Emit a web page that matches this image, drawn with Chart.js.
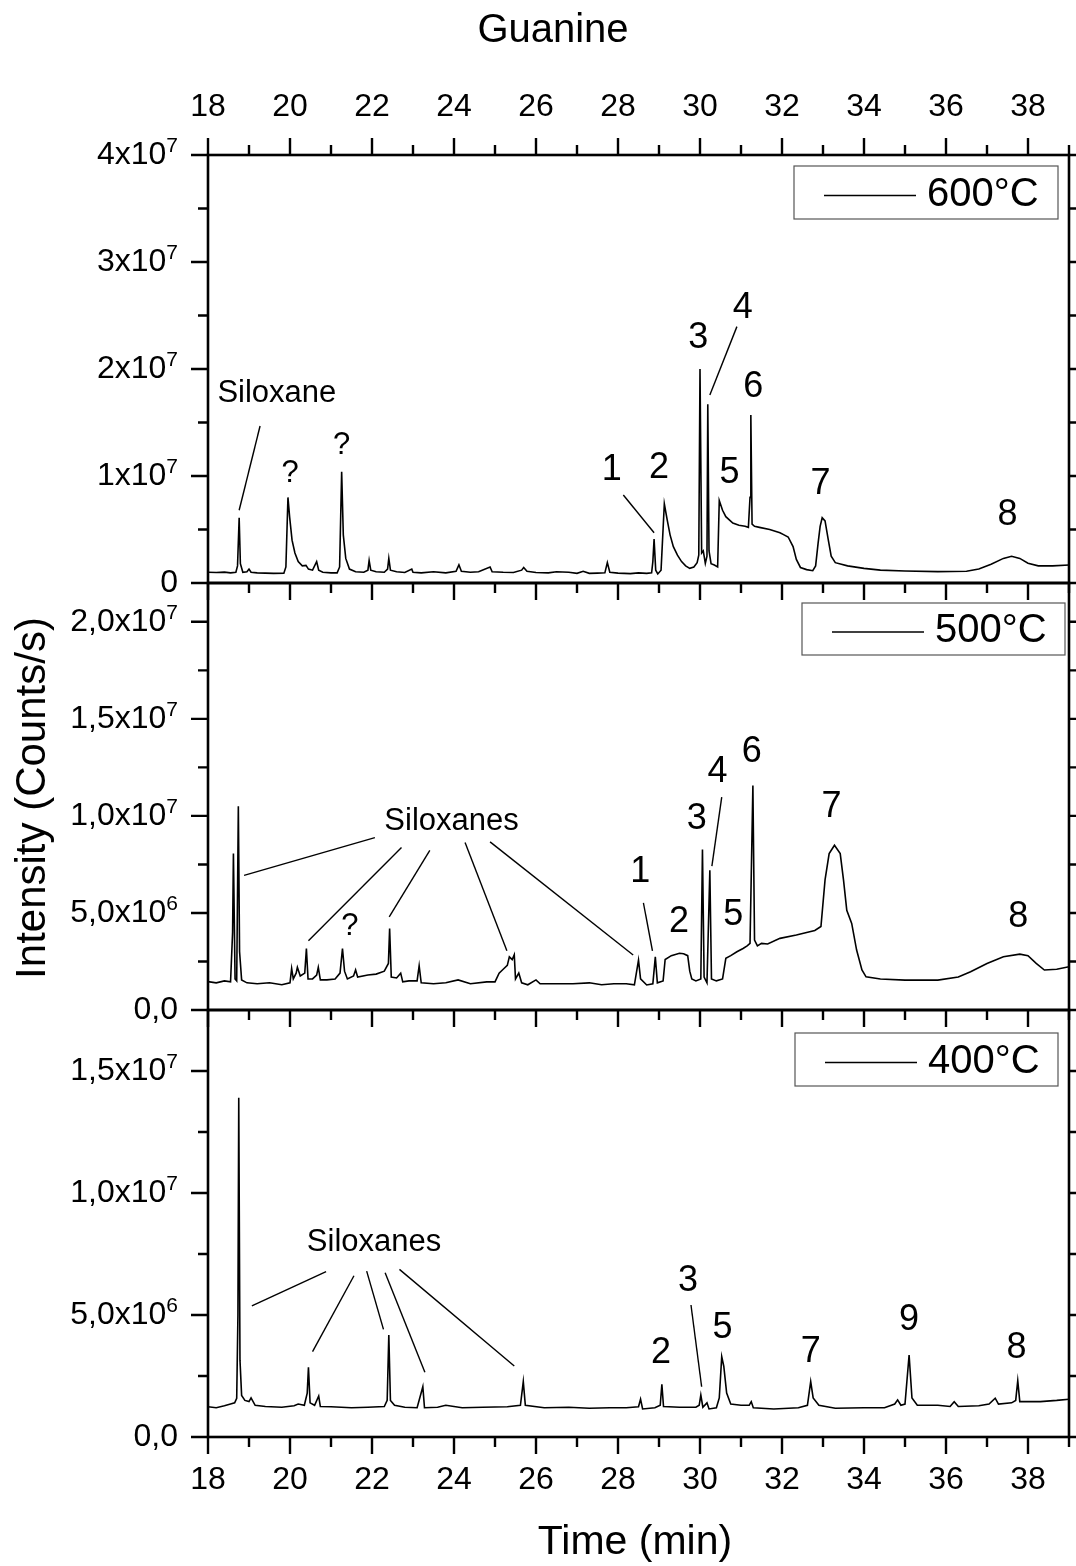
<!DOCTYPE html>
<html>
<head>
<meta charset="utf-8">
<script src="https://cdn.jsdelivr.net/npm/chart.js@4"></script>
<style>
body { margin: 0; background: #fff; }
#wrap { position: relative; width: 1076px; height: 1566px; overflow: hidden; background: #fff; }
canvas { position: absolute; left: 0; }
</style>
</head>
<body>
<div id="wrap">
  <canvas id="c600" width="1076" height="610" style="top:0px"></canvas>
  <canvas id="c500" width="1076" height="460" style="top:570px"></canvas>
  <canvas id="c400" width="1076" height="566" style="top:1000px"></canvas>
</div>
<script>
// retention time (min) and intensity (10^6 counts/s)
var t600 = [
  18.0, 18.2, 18.4, 18.55, 18.68, 18.72, 18.76, 18.79, 18.85, 18.95,
  19.0, 19.05, 19.2, 19.4, 19.6, 19.85, 19.9, 19.95, 19.99, 20.05,
  20.12, 20.2, 20.3, 20.39, 20.45, 20.55, 20.65, 20.7, 20.8, 21.0,
  21.15, 21.21, 21.26, 21.3, 21.36, 21.45, 21.6, 21.8, 21.9, 21.93,
  21.97, 22.1, 22.3, 22.38, 22.41, 22.45, 22.6, 22.8, 22.97, 23.0,
  23.2, 23.5, 23.8, 24.05, 24.12, 24.18, 24.4, 24.6, 24.88, 24.93,
  25.2, 25.45, 25.65, 25.7, 25.78, 26.0, 26.3, 26.5, 26.8, 27.0,
  27.15, 27.3, 27.5, 27.68, 27.74, 27.8, 28.0, 28.3, 28.5, 28.7,
  28.82, 28.85, 28.88, 28.92, 28.97, 29.05, 29.13, 29.2, 29.27, 29.35,
  29.45, 29.55, 29.65, 29.75, 29.85, 29.93, 29.97, 30.0, 30.04, 30.08,
  30.13, 30.17, 30.19, 30.22, 30.27, 30.35, 30.43, 30.47, 30.55, 30.63,
  30.8, 30.95, 31.1, 31.18, 31.22, 31.24, 31.27, 31.33, 31.45, 31.7,
  31.95, 32.05, 32.15, 32.27, 32.35, 32.45, 32.6, 32.75, 32.82, 32.88,
  32.93, 32.98, 33.05, 33.13, 33.2, 33.3, 33.6, 34.0, 34.4, 35.0,
  35.8, 36.5, 36.8, 37.1, 37.4, 37.6, 37.8, 38.0, 38.25, 38.6,
  39.0
];
var i600 = [
  1.0, 0.98, 1.02, 0.95, 1.0, 1.6, 6.1, 1.8, 1.0, 1.05,
  1.3, 1.0, 0.95, 0.92, 0.9, 0.92, 1.5, 8.0, 6.2, 4.0,
  2.8, 2.0, 1.6, 1.65, 1.3, 1.2, 2.0, 1.2, 1.0, 0.95,
  0.95, 1.5, 10.4, 4.5, 2.3, 1.3, 1.05, 1.0, 1.2, 2.1,
  1.2, 1.05, 1.0, 1.3, 2.3, 1.2, 1.05, 0.98, 1.3, 1.0,
  0.95, 1.05, 0.95, 1.1, 1.7, 1.1, 1.0, 1.05, 1.5, 1.05,
  1.0, 0.98, 1.2, 1.45, 1.1, 0.98, 0.95, 1.05, 1.0, 0.9,
  1.1, 0.9, 0.92, 0.95, 1.9, 1.0, 0.92, 0.88, 0.95, 0.9,
  0.95, 2.0, 4.1, 1.2, 0.85, 1.2, 7.4, 5.9, 4.5, 3.4,
  2.6, 2.0, 1.6, 1.37, 1.5, 1.9, 2.6, 20.0, 2.8, 3.0,
  1.84, 2.5, 16.7, 3.0, 1.8, 1.68, 1.5, 7.7, 6.8, 6.2,
  5.6, 5.4, 5.3, 5.2, 8.0, 15.7, 5.5, 5.3, 5.2, 5.0,
  4.7, 4.5, 4.3, 3.4, 2.2, 1.45, 1.25, 1.15, 1.6, 3.7,
  5.3, 6.1, 5.8, 4.0, 2.5, 1.9, 1.6, 1.37, 1.2, 1.12,
  1.06, 1.1, 1.3, 1.75, 2.3, 2.5, 2.3, 1.85, 1.6, 1.6,
  1.68
];

var t500 = [
  18.0, 18.2, 18.4, 18.55, 18.6, 18.62, 18.66, 18.7, 18.74, 18.77,
  18.82, 18.95, 19.2, 19.5, 19.8, 20.0, 20.04, 20.08, 20.15, 20.18,
  20.25, 20.36, 20.4, 20.44, 20.55, 20.65, 20.69, 20.74, 20.9, 21.1,
  21.22, 21.28, 21.33, 21.4, 21.55, 21.6, 21.65, 21.9, 22.1, 22.3,
  22.4, 22.43, 22.47, 22.6, 22.7, 22.75, 22.9, 23.1, 23.15, 23.2,
  23.5, 23.8, 24.1, 24.4, 24.8, 25.0, 25.1, 25.2, 25.3, 25.35,
  25.42, 25.47, 25.5, 25.58, 25.65, 25.8, 26.0, 26.1, 26.5, 26.9,
  27.3, 27.6, 27.9, 28.2, 28.4, 28.5, 28.55, 28.7, 28.85, 28.91,
  28.96, 29.1, 29.15, 29.3, 29.5, 29.6, 29.7, 29.75, 29.8, 29.9,
  30.02, 30.06, 30.1, 30.17, 30.24, 30.28, 30.4, 30.55, 30.63, 30.75,
  30.9, 31.05, 31.15, 31.22, 31.29, 31.33, 31.4, 31.5, 31.65, 31.95,
  32.35, 32.8, 32.95, 33.05, 33.15, 33.28, 33.42, 33.5, 33.58, 33.7,
  33.82, 33.95, 34.05, 34.4, 35.0, 35.8, 36.3, 36.6, 37.0, 37.4,
  37.8, 38.0, 38.2, 38.4, 38.7, 39.0
];
var i500 = [
  1.46, 1.4, 1.5, 1.45, 4.0, 8.06, 1.6, 1.5, 10.5, 3.0,
  1.55, 1.4, 1.35, 1.4, 1.3, 1.4, 2.14, 1.6, 1.9, 2.2,
  1.75, 1.9, 3.17, 1.6, 1.6, 1.8, 2.2, 1.55, 1.55, 1.6,
  1.9, 3.17, 2.0, 1.6, 1.75, 2.06, 1.7, 1.8, 1.85, 2.0,
  2.4, 4.2, 1.7, 1.65, 1.9, 1.45, 1.5, 1.5, 2.28, 1.4,
  1.35, 1.4, 1.55, 1.35, 1.45, 1.45, 1.9, 2.1, 2.3, 2.74,
  2.6, 2.85, 1.6, 1.9, 1.4, 1.3, 1.55, 1.35, 1.35, 1.35,
  1.4, 1.3, 1.35, 1.35, 1.3, 2.57, 1.6, 1.29, 1.35, 2.74,
  1.4, 1.5, 2.6, 2.8, 2.92, 2.9, 2.8, 2.0, 1.6, 1.5,
  1.6, 8.27, 1.7, 1.4, 7.2, 1.6, 1.5, 1.6, 2.66, 2.8,
  3.0, 3.17, 3.3, 3.43, 11.57, 3.6, 3.3, 3.43, 3.4, 3.69,
  3.86, 4.1, 4.3, 6.7, 8.06, 8.49, 8.06, 6.7, 5.14, 4.46,
  3.09, 2.06, 1.71, 1.6, 1.54, 1.54, 1.7, 1.97, 2.4, 2.74,
  2.88, 2.8, 2.4, 2.06, 2.1, 2.23
];

var t400 = [
  18.0, 18.2, 18.4, 18.55, 18.65, 18.7, 18.73, 18.75, 18.78, 18.82,
  18.9, 19.0, 19.05, 19.15, 19.4, 19.8, 20.1, 20.2, 20.35, 20.42,
  20.45, 20.49, 20.6, 20.7, 20.74, 21.0, 21.5, 21.9, 22.3, 22.37,
  22.41, 22.45, 22.55, 22.8, 23.1, 23.24, 23.28, 23.6, 23.8, 24.2,
  24.7, 25.3, 25.62, 25.69, 25.74, 26.2, 26.8, 27.3, 27.8, 28.2,
  28.5, 28.55, 28.6, 28.9, 29.03, 29.07, 29.11, 29.5, 29.9, 29.98,
  30.02, 30.07, 30.17, 30.22, 30.4, 30.47, 30.53, 30.58, 30.65, 30.75,
  31.0, 31.2, 31.25, 31.3, 31.8, 32.4, 32.62, 32.7, 32.76, 32.9,
  33.3, 34.0, 34.5, 34.75, 34.82, 34.9, 35.0, 35.1, 35.17, 35.3,
  35.8, 36.1, 36.2, 36.3, 36.8, 37.05, 37.2, 37.28, 37.6, 37.7,
  37.75, 37.8, 38.3, 38.7, 39.0
];
var i400 = [
  1.24, 1.2, 1.28, 1.35, 1.4, 1.59, 5.0, 13.9, 3.15, 1.7,
  1.5, 1.45, 1.6, 1.3, 1.25, 1.22, 1.28, 1.35, 1.3, 1.8,
  2.86, 1.4, 1.3, 1.68, 1.25, 1.24, 1.2, 1.22, 1.25, 1.5,
  4.18, 1.5, 1.3, 1.22, 1.2, 2.06, 1.2, 1.22, 1.3, 1.2,
  1.22, 1.24, 1.3, 2.27, 1.3, 1.2, 1.22, 1.18, 1.2, 1.2,
  1.24, 1.55, 1.15, 1.2, 1.3, 2.16, 1.25, 1.22, 1.22, 1.3,
  1.72, 1.22, 1.4, 1.15, 1.2, 1.6, 3.29, 2.9, 1.8, 1.35,
  1.3, 1.3, 1.45, 1.2, 1.15, 1.2, 1.3, 2.27, 1.6, 1.3,
  1.18, 1.2, 1.2, 1.35, 1.52, 1.3, 1.35, 3.36, 1.6, 1.3,
  1.3, 1.25, 1.45, 1.25, 1.28, 1.35, 1.59, 1.35, 1.4, 1.5,
  2.31, 1.45, 1.45, 1.5, 1.55
];

// axis ticks
var xMajor = [18, 20, 22, 24, 26, 28, 30, 32, 34, 36, 38];
var xMinor = [19, 21, 23, 25, 27, 29, 31, 33, 35, 37, 39];

var yTicks600 = [0, 10, 20, 30, 40];
var yLabels600 = ['0', '1x10^7', '2x10^7', '3x10^7', '4x10^7'];
var yMinor600 = [5, 15, 25, 35];

var yTicks500 = [0, 5, 10, 15, 20];
var yLabels500 = ['0,0', '5,0x10^6', '1,0x10^7', '1,5x10^7', '2,0x10^7'];
var yMinor500 = [2.5, 7.5, 12.5, 17.5];

var yTicks400 = [0, 5, 10, 15];
var yLabels400 = ['0,0', '5,0x10^6', '1,0x10^7', '1,5x10^7'];
var yMinor400 = [2.5, 7.5, 12.5];

// peak annotations: text, time, intensity, font size
var notes600 = [
  ['Siloxane', 19.68, 17.76, 31], ['?', 20.0, 10.25, 31], ['?', 21.26, 12.9, 31],
  ['1', 27.85, 10.56, 36], ['2', 29.0, 10.7, 36], ['3', 29.96, 22.87, 36],
  ['4', 31.04, 25.67, 36], ['5', 30.72, 10.25, 36], ['6', 31.3, 18.29, 36],
  ['7', 32.94, 9.25, 36], ['8', 37.5, 6.36, 36]
];
var leaders600 = [[19.27, 14.67, 18.76, 6.8], [28.13, 8.22, 28.88, 4.7], [30.9, 23.96, 30.24, 17.57]];

var notes500 = [
  ['Siloxanes', 23.94, 9.74, 31], ['?', 21.46, 4.29, 31],
  ['1', 28.54, 7.11, 36], ['2', 29.49, 4.54, 36], ['3', 29.92, 9.86, 36],
  ['4', 30.43, 12.26, 36], ['5', 30.81, 4.89, 36], ['6', 31.26, 13.29, 36],
  ['7', 33.21, 10.46, 36], ['8', 37.76, 4.8, 36]
];
var leaders500 = [
  [22.07, 8.88, 18.88, 6.94], [22.72, 8.37, 20.45, 3.57], [23.41, 8.23, 22.42, 4.8],
  [24.27, 8.63, 25.29, 3.05], [24.88, 8.66, 28.37, 2.83], [28.62, 5.52, 28.84, 3.05],
  [30.53, 10.97, 30.29, 7.41]
];

var notes400 = [
  ['Siloxanes', 22.05, 7.96, 31], ['2', 29.05, 3.43, 36], ['3', 29.71, 6.37, 36],
  ['5', 30.55, 4.45, 36], ['7', 32.7, 3.5, 36], ['9', 35.1, 4.8, 36], ['8', 37.72, 3.64, 36]
];
var leaders400 = [
  [20.88, 6.78, 19.07, 5.37], [21.56, 6.61, 20.55, 3.5], [21.87, 6.8, 22.28, 4.41],
  [22.32, 6.73, 23.29, 2.65], [22.67, 6.87, 25.47, 2.91], [29.78, 5.41, 30.04, 2.06]
];

var FONT = '"Liberation Sans", Arial, sans-serif';
Chart.defaults.font.family = FONT;

function yLabel(ctx, s, xr, y) {
  var p = s.split('^');
  ctx.fillStyle = '#000';
  if (p.length === 1) {
    ctx.font = '32px ' + FONT;
    ctx.textAlign = 'right';
    ctx.textBaseline = 'middle';
    ctx.fillText(s, xr, y);
    return;
  }
  ctx.font = '21px ' + FONT;
  var ew = ctx.measureText(p[1]).width;
  ctx.textAlign = 'right';
  ctx.textBaseline = 'alphabetic';
  ctx.fillText(p[1], xr, y - 3);
  ctx.font = '32px ' + FONT;
  ctx.textBaseline = 'middle';
  ctx.fillText(p[0], xr - ew, y);
}

var panelPlugin = {
  id: 'panel',
  afterDraw: function (chart, args, o) {
    var ctx = chart.ctx, a = chart.chartArea;
    var xs = chart.scales.x, ys = chart.scales.y;
    ctx.save();
    ctx.strokeStyle = '#000';
    ctx.fillStyle = '#000';

    // leader lines + peak labels
    ctx.lineWidth = 1.4;
    o.leaders.forEach(function (l) {
      ctx.beginPath();
      ctx.moveTo(xs.getPixelForValue(l[0]), ys.getPixelForValue(l[1]));
      ctx.lineTo(xs.getPixelForValue(l[2]), ys.getPixelForValue(l[3]));
      ctx.stroke();
    });
    ctx.textAlign = 'center';
    ctx.textBaseline = 'middle';
    o.notes.forEach(function (n) {
      ctx.font = n[3] + 'px ' + FONT;
      ctx.fillText(n[0], xs.getPixelForValue(n[1]), ys.getPixelForValue(n[2]));
    });

    // legend box
    var lg = o.legend;
    var bx = a.right - lg.dr - lg.w, by = a.top + lg.dt;
    ctx.lineWidth = 1.2;
    ctx.strokeStyle = '#555';
    ctx.strokeRect(bx, by, lg.w, lg.h);
    ctx.strokeStyle = '#000';
    ctx.lineWidth = 1.5;
    ctx.beginPath();
    ctx.moveTo(bx + 30, by + lg.h / 2 + 3);
    ctx.lineTo(bx + 122, by + lg.h / 2 + 3);
    ctx.stroke();
    ctx.font = '40px ' + FONT;
    ctx.textAlign = 'left';
    ctx.fillText(chart.data.datasets[0].label, bx + 133, by + lg.h / 2 + 2);

    // frame
    ctx.lineWidth = 2.6;
    ctx.strokeRect(a.left, a.top, a.right - a.left, a.bottom - a.top);

    // x ticks
    ctx.lineWidth = 2.4;
    function xt(list, len) {
      list.forEach(function (v) {
        var px = xs.getPixelForValue(v);
        ctx.beginPath();
        ctx.moveTo(px, a.bottom);
        ctx.lineTo(px, a.bottom + len);
        if (o.topTicks) {
          ctx.moveTo(px, a.top);
          ctx.lineTo(px, a.top - len);
        }
        ctx.stroke();
      });
    }
    xt(xMajor, 17);
    xt(xMinor, 10);

    // y ticks, left and right
    function yt(list, len) {
      list.forEach(function (v) {
        var py = ys.getPixelForValue(v);
        ctx.beginPath();
        ctx.moveTo(a.left, py);
        ctx.lineTo(a.left - len, py);
        ctx.moveTo(a.right, py);
        ctx.lineTo(a.right + len, py);
        ctx.stroke();
      });
    }
    yt(o.yTicks, 17);
    yt(o.yMinor, 10);

    o.yTicks.forEach(function (v, k) {
      yLabel(ctx, o.yLabels[k], a.left - 30, ys.getPixelForValue(v));
    });

    ctx.font = '32px ' + FONT;
    ctx.textAlign = 'center';
    ctx.textBaseline = 'middle';
    if (o.topLabels) {
      xMajor.forEach(function (v) { ctx.fillText(String(v), xs.getPixelForValue(v), a.top - 48); });
    }
    if (o.bottomLabels) {
      xMajor.forEach(function (v) { ctx.fillText(String(v), xs.getPixelForValue(v), a.bottom + 43); });
    }

    // titles
    (o.texts || []).forEach(function (tx) {
      ctx.save();
      ctx.font = tx.size + 'px ' + FONT;
      ctx.textAlign = 'center';
      ctx.textBaseline = 'middle';
      ctx.translate(tx.x, tx.y);
      if (tx.rot) ctx.rotate(tx.rot);
      ctx.fillText(tx.text, 0, 0);
      ctx.restore();
    });
    ctx.restore();
  }
};

function makePanel(id, t, v, label, yMax, pad, opts) {
  var pts = t.map(function (x, k) { return { x: x, y: v[k] }; });
  return new Chart(document.getElementById(id), {
    type: 'line',
    data: {
      datasets: [{
        label: label,
        data: pts,
        borderColor: '#000',
        borderWidth: 1.6,
        pointRadius: 0,
        tension: 0,
        fill: false
      }]
    },
    options: {
      responsive: false,
      animation: false,
      layout: { padding: pad },
      scales: {
        x: { type: 'linear', min: 18, max: 39, display: false },
        y: { type: 'linear', min: 0, max: yMax, display: false }
      },
      plugins: {
        legend: { display: false },
        tooltip: { enabled: false },
        panel: opts
      }
    },
    plugins: [panelPlugin]
  });
}

makePanel('c600', t600, i600, '600°C', 40, { left: 208, right: 7, top: 155, bottom: 27 }, {
  yTicks: yTicks600, yLabels: yLabels600, yMinor: yMinor600,
  notes: notes600, leaders: leaders600,
  legend: { dr: 11, dt: 11, w: 264, h: 53 },
  topTicks: true, topLabels: true,
  texts: [{ text: 'Guanine', x: 553, y: 31, size: 40 }]
});

makePanel('c500', t500, i500, '500°C', 22, { left: 208, right: 7, top: 13, bottom: 20 }, {
  yTicks: yTicks500, yLabels: yLabels500, yMinor: yMinor500,
  notes: notes500, leaders: leaders500,
  legend: { dr: 4, dt: 20, w: 263, h: 52 },
  texts: [{ text: 'Intensity (Counts/s)', x: 33, y: 228, size: 42, rot: -Math.PI / 2 }]
});

makePanel('c400', t400, i400, '400°C', 17.5, { left: 208, right: 7, top: 10, bottom: 129 }, {
  yTicks: yTicks400, yLabels: yLabels400, yMinor: yMinor400,
  notes: notes400, leaders: leaders400,
  legend: { dr: 11, dt: 23, w: 263, h: 53 },
  bottomLabels: true,
  texts: [{ text: 'Time (min)', x: 635, y: 543, size: 41 }]
});
</script>
</body>
</html>
